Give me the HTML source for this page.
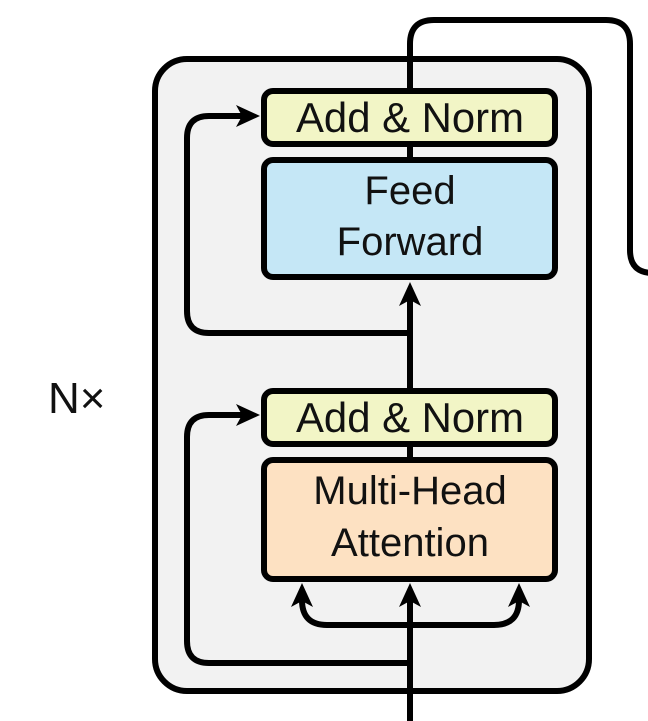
<!DOCTYPE html>
<html><head><meta charset="utf-8"><style>
html,body{margin:0;padding:0;background:#fff;}
svg{display:block;}
text{font-family:"Liberation Sans",sans-serif;fill:#111;}
</style></head><body>
<svg width="648" height="721" viewBox="0 0 648 721" xmlns="http://www.w3.org/2000/svg">
<rect x="155" y="59" width="434" height="632" rx="32" fill="#f2f2f2" stroke="#000" stroke-width="6"/>
<path d="M410 88 V44 Q410 20 434 20 H606 Q630 20 630 44 V250 Q630 273 653 273" fill="none" stroke="#000" stroke-width="6"/>
<g fill="none" stroke="#000" stroke-width="6">
<path d="M410 160 V145"/>
<path d="M410 460 V445"/>
<path d="M410 721 V600"/>
<path d="M410 388 V300"/>
<path d="M410 333 H209 Q187 333 187 311 V138 Q187 116 209 116 H245"/>
<path d="M410 663 H209 Q187 663 187 641 V437 Q187 415 209 415 H245"/>
<path d="M302 600 Q302 625 327 625 H494 Q519 625 519 600"/>
</g>
<g fill="#000">
<path d="M260 116 L236 105 L242 116 L236 127 Z"/>
<path d="M260 415 L236 404 L242 415 L236 426 Z"/>
<path d="M410 282 L399 306 L410 300 L421 306 Z"/>
<path d="M410 583 L399 607 L410 601 L421 607 Z"/>
<path d="M302 583 L291 607 L302 601 L313 607 Z"/>
<path d="M519 583 L508 607 L519 601 L530 607 Z"/>
</g>
<rect x="264" y="91" width="291" height="53" rx="9" fill="#f2f5c6" stroke="#000" stroke-width="6"/>
<rect x="264" y="160" width="291" height="117" rx="9" fill="#c5e7f6" stroke="#000" stroke-width="6"/>
<rect x="264" y="391" width="291" height="53" rx="9" fill="#f2f5c6" stroke="#000" stroke-width="6"/>
<rect x="264" y="460" width="291" height="119" rx="9" fill="#fde1c2" stroke="#000" stroke-width="6"/>
<text x="410" y="132" font-size="42" text-anchor="middle" textLength="228" lengthAdjust="spacingAndGlyphs">Add &amp; Norm</text>
<text x="410" y="432" font-size="42" text-anchor="middle" textLength="228" lengthAdjust="spacingAndGlyphs">Add &amp; Norm</text>
<text x="410" y="204" font-size="40" text-anchor="middle">Feed</text>
<text x="410" y="255" font-size="40" text-anchor="middle">Forward</text>
<text x="410" y="504" font-size="40" text-anchor="middle">Multi-Head</text>
<text x="410" y="556" font-size="40" text-anchor="middle">Attention</text>
<text x="48" y="413" font-size="44">N×</text>
</svg>
</body></html>
